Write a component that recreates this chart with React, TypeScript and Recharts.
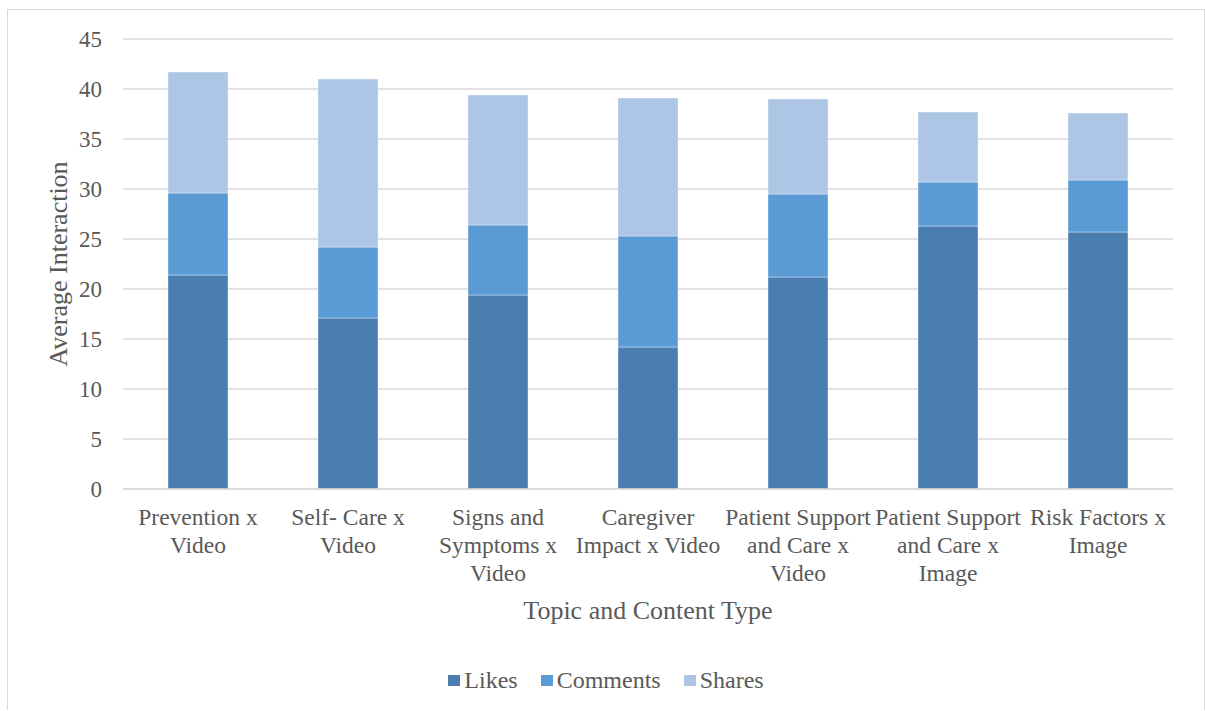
import React from 'react';
import { BarChart, Bar, XAxis, YAxis, CartesianGrid, Legend } from 'recharts';

// topic x content type
const categories = [
  'Prevention x\nVideo',
  'Self- Care x\nVideo',
  'Signs and\nSymptoms x\nVideo',
  'Caregiver\nImpact x Video',
  'Patient Support\nand Care x\nVideo',
  'Patient Support\nand Care x\nImage',
  'Risk Factors x\nImage',
];
const seriesNames = ['Likes', 'Comments', 'Shares'];
const likes = [21.4, 17.1, 19.4, 14.2, 21.2, 26.3, 25.7];
const comments = [8.2, 7.1, 7.0, 11.1, 8.3, 4.4, 5.2];
const shares = [12.1, 16.8, 13.0, 13.8, 9.5, 7.0, 6.7];
const yTicks = [0, 5, 10, 15, 20, 25, 30, 35, 40, 45];

const data = categories.map((name, i) => ({
  name,
  Likes: likes[i],
  Comments: comments[i],
  Shares: shares[i],
}));

const FONT = '"Liberation Serif", "Times New Roman", serif';
const TEXT = '#595959';

const CategoryTick = ({ x, y, payload }: any) => {
  const lines = String(payload.value).split('\n');
  return (
    <text x={x} y={y} textAnchor="middle" fill={TEXT} fontSize={23.5} fontFamily={FONT}>
      {lines.map((l, i) => (
        <tspan key={i} x={x} dy={28}>{l}</tspan>
      ))}
    </text>
  );
};

const renderLegend = ({ payload }: any) => {
  // keep series order, recharts sorts the payload by name
  const items = [...(payload || [])].sort(
    (a: any, b: any) => seriesNames.indexOf(a.value) - seriesNames.indexOf(b.value)
  );
  return (
    <div style={{ display: 'flex', justifyContent: 'center', alignItems: 'center', height: 30, fontFamily: FONT, fontSize: 24, color: TEXT, lineHeight: '30px' }}>
      {items.map((p: any, i: number) => (
        <div key={i} style={{ display: 'flex', alignItems: 'center', marginRight: i < items.length - 1 ? 23 : 0 }}>
          <span style={{ width: 12, height: 11, background: p.color, marginRight: 4, display: 'inline-block' }} />
          <span>{p.value}</span>
        </div>
      ))}
    </div>
  );
};

export default function App() {
  return (
    <div style={{ position: 'absolute', left: 7, top: 9, width: 1196, height: 700, borderTop: '1px solid #d9d9d9', borderLeft: '1px solid #d9d9d9', borderRight: '1px solid #d9d9d9', background: '#fff' }}>
      <BarChart width={1196} height={700} data={data} margin={{ top: 29, right: 31, left: 55, bottom: 41 }} barSize={60}>
        <CartesianGrid vertical={false} stroke="#d9d9d9" strokeWidth={1.3} />
        <XAxis
          dataKey="name"
          interval={0}
          height={150}
          axisLine={{ stroke: '#d9d9d9', strokeWidth: 1.3 }}
          tickLine={false}
          tick={<CategoryTick />}
          label={{
            content: ({ viewBox }: any) => (
              <text x={viewBox.x + viewBox.width / 2} y={viewBox.y + 130} textAnchor="middle" fill={TEXT} fontSize={26} fontFamily={FONT}>
                Topic and Content Type
              </text>
            ),
          }}
        />
        <YAxis
          width={60}
          domain={[0, 45]}
          ticks={yTicks}
          axisLine={false}
          tickLine={false}
          tickMargin={15}
          tick={{ fill: TEXT, fontSize: 23, fontFamily: FONT }}
          label={{
            content: ({ viewBox }: any) => {
              const cx = viewBox.x + 4;
              const cy = viewBox.y + viewBox.height / 2;
              return (
                <text x={cx} y={cy} textAnchor="middle" fill={TEXT} fontSize={26} fontFamily={FONT} transform={`rotate(-90, ${cx}, ${cy})`}>
                  Average Interaction
                </text>
              );
            },
          }}
        />
        <Legend verticalAlign="bottom" content={renderLegend} wrapperStyle={{ left: 0, width: 1196, top: 655 }} />
        <Bar dataKey="Likes" stackId="a" fill="#4a7eb0" stroke="#ffffff" strokeOpacity={0.5} strokeWidth={0.75} isAnimationActive={false} />
        <Bar dataKey="Comments" stackId="a" fill="#5b9bd5" stroke="#ffffff" strokeOpacity={0.5} strokeWidth={0.75} isAnimationActive={false} />
        <Bar dataKey="Shares" stackId="a" fill="#adc6e6" stroke="#ffffff" strokeOpacity={0.5} strokeWidth={0.75} isAnimationActive={false} />
      </BarChart>
    </div>
  );
}
